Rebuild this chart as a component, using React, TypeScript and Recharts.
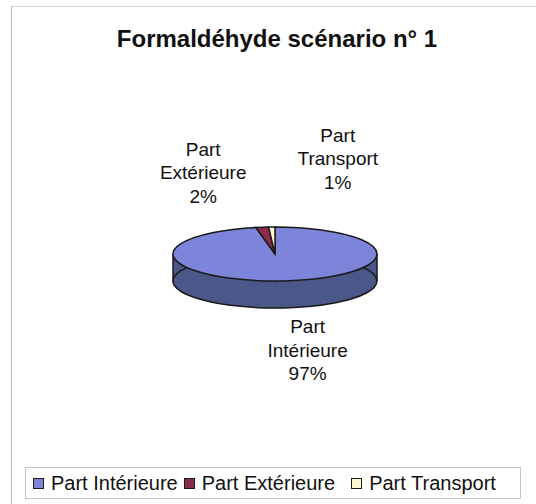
import React from 'react';
import { PieChart, Pie, Cell, Customized } from 'recharts';

const categories = ['Part Intérieure', 'Part Extérieure', 'Part Transport'];
const shares = [97, 2, 1];
const pctLabels = ['97%', '2%', '1%'];

const topColors = ['#7d85da', '#8c2b4c', '#fbf8d2'];
const sideColors = ['#4b5788', '#5a1c32', '#a9a78a'];

// 3D pie geometry (screen pixels)
const CX = 275;
const CY = 254;
const RX = 102;
const RY = 27;
const DEPTH = 27;
const SQUASH = RY / RX;

// label block centre, offset from the slice's edge point on the ellipse
const labelNudge: Record<string, [number, number]> = {
  'Part Intérieure': [23, 69],
  'Part Extérieure': [-59, -55],
  'Part Transport': [66, -69],
};

// legend item left margins
const legendGaps = [7, 6, 16];

const data = categories.map((name, i) => ({ name, value: shares[i], pct: pctLabels[i] }));

const FONT = '"Liberation Sans", Arial, sans-serif';

const css = `
.pie-top .recharts-sector, .pie-bottom .recharts-sector {
  transform: scaleY(${SQUASH});
  transform-origin: ${CX}px ${CY}px;
  vector-effect: non-scaling-stroke;
}
`;

const renderLabel = (props: any) => {
  const { cx, cy, midAngle, outerRadius, index } = props;
  const rad = (midAngle * Math.PI) / 180;
  const ex = cx + outerRadius * Math.cos(rad);
  const ey = cy - outerRadius * SQUASH * Math.sin(rad);
  const [dx, dy] = labelNudge[categories[index]];
  const x = ex + dx;
  const yc = ey + dy;
  const words = categories[index].split(' ');
  const lines = [words[0], words.slice(1).join(' '), pctLabels[index]];
  return (
    <text key={index} x={x} y={yc} textAnchor="middle" fontFamily={FONT} fontSize={19} fill="#111">
      {lines.map((l, k) => (
        <tspan key={k} x={x} y={yc + (k - 1) * 23.5 + 7}>
          {l}
        </tspan>
      ))}
    </text>
  );
};

const SideWall = () => (
  <g>
    <rect x={CX - RX} y={CY} width={RX * 2} height={DEPTH} fill={sideColors[0]} />
    <line x1={CX - RX} y1={CY} x2={CX - RX} y2={CY + DEPTH} stroke="#1a1a1a" strokeWidth={1.5} />
    <line x1={CX + RX} y1={CY} x2={CX + RX} y2={CY + DEPTH} stroke="#1a1a1a" strokeWidth={1.5} />
  </g>
);

export default function App() {
  return (
    <div style={{ position: 'absolute', left: 0, top: 0, width: 536, height: 504, background: '#fff', overflow: 'hidden' }}>
      <style>{css}</style>
      <div style={{ position: 'absolute', left: 11, top: 6, width: 525, height: 498, borderLeft: '1px solid #b8b8b8', borderTop: '1px solid #cdd8c8' }} />
      <div
        style={{
          position: 'absolute',
          left: 0,
          top: 25,
          width: 554,
          textAlign: 'center',
          fontFamily: FONT,
          fontWeight: 'bold',
          fontSize: 24,
          color: '#111',
        }}
      >
        Formaldéhyde scénario n° 1
      </div>
      <div style={{ position: 'absolute', left: 0, top: 0 }}>
        <PieChart width={536} height={504} margin={{ top: 0, right: 0, bottom: 0, left: 0 }}>
          <Pie
            className="pie-bottom"
            data={data}
            dataKey="value"
            nameKey="name"
            cx={CX}
            cy={CY + DEPTH / SQUASH}
            outerRadius={RX}
            startAngle={90}
            endAngle={-270}
            stroke="#1a1a1a"
            strokeWidth={1.5}
            isAnimationActive={false}
            legendType="none"
          >
            {data.map((d, i) => (
              <Cell key={d.name} fill={sideColors[i]} />
            ))}
          </Pie>
          <Customized component={SideWall} />
          <Pie
            className="pie-top"
            data={data}
            dataKey="value"
            nameKey="name"
            cx={CX}
            cy={CY}
            outerRadius={RX}
            startAngle={90}
            endAngle={-270}
            stroke="#1a1a1a"
            strokeWidth={1.5}
            labelLine={false}
            label={renderLabel}
            isAnimationActive={false}
          >
            {data.map((d, i) => (
              <Cell key={d.name} fill={topColors[i]} />
            ))}
          </Pie>
        </PieChart>
      </div>
      <div
        style={{
          position: 'absolute',
          left: 25,
          top: 467,
          width: 494,
          height: 30,
          border: '1px solid #cbbfcb',
          display: 'flex',
          alignItems: 'center',
          fontFamily: FONT,
          fontSize: 20,
          color: '#111',
        }}
      >
        {categories.map((c, i) => (
          <div key={c} style={{ display: 'flex', alignItems: 'center', marginLeft: legendGaps[i] }}>
            <span
              style={{
                display: 'inline-block',
                width: 9,
                height: 9,
                background: topColors[i],
                border: '1.5px solid #1a1a1a',
                marginRight: 7,
              }}
            />
            <span>{c}</span>
          </div>
        ))}
      </div>
    </div>
  );
}
